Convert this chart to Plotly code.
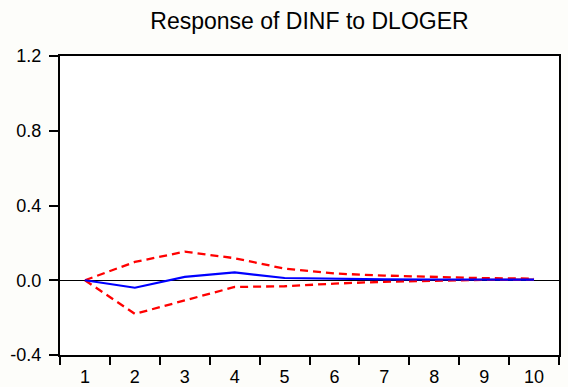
import plotly.graph_objects as go

periods = [1, 2, 3, 4, 5, 6, 7, 8, 9, 10]
response = [0.0, -0.040, 0.018, 0.042, 0.012, 0.008, 0.005, 0.004, 0.003, 0.003]
upper = [0.0, 0.098, 0.153, 0.118, 0.062, 0.036, 0.025, 0.016, 0.011, 0.009]
lower = [0.0, -0.180, -0.108, -0.036, -0.032, -0.018, -0.008, -0.001, 0.002, 0.003]
y_ticks = [-0.4, 0.0, 0.4, 0.8, 1.2]
y_ticktext = ["-0.4", "0.0", "0.4", "0.8", "1.2"]
title_text = "Response of DINF to DLOGER"

FONT = "Liberation Sans, Arial, sans-serif"

fig = go.Figure()
fig.add_trace(go.Scatter(x=periods, y=upper, mode="lines",
                         line=dict(color="#ff0000", width=2.3, dash="8px,5px"),
                         showlegend=False, hoverinfo="skip"))
fig.add_trace(go.Scatter(x=periods, y=lower, mode="lines",
                         line=dict(color="#ff0000", width=2.3, dash="8px,5px"),
                         showlegend=False, hoverinfo="skip"))
fig.add_trace(go.Scatter(x=periods, y=response, mode="lines",
                         line=dict(color="#0000ff", width=2.2),
                         showlegend=False))

fig.update_layout(
    width=568, height=387,
    margin=dict(l=60, r=9, t=56, b=32, autoexpand=False),
    paper_bgcolor="#fdfdfa",
    plot_bgcolor="#ffffff",
    font=dict(family=FONT, size=18, color="#000000"),
    title=dict(text=title_text, x=309.5 / 568, xanchor="center",
               y=1 - 21 / 387, yanchor="middle",
               font=dict(family=FONT, size=23, color="#000000")),
)

fig.update_xaxes(
    range=[0.5, 10.5], automargin=False,
    tickmode="array", tickvals=periods, ticktext=[str(p) for p in periods],
    ticks="", showgrid=False, zeroline=False,
    showline=True, linecolor="#000000", linewidth=2, mirror=True,
    ticklabelstandoff=4,
    minor=dict(tick0=0.5, dtick=1, ticks="outside", ticklen=8, tickwidth=1.5,
               tickcolor="#000000", showgrid=False),
)
fig.update_yaxes(
    range=[-0.4, 1.2], automargin=False,
    tickmode="array", tickvals=y_ticks, ticktext=y_ticktext,
    ticks="outside", ticklen=9, tickwidth=1.5, tickcolor="#000000",
    showgrid=False,
    zeroline=True, zerolinecolor="#000000", zerolinewidth=1,
    showline=True, linecolor="#000000", linewidth=2, mirror=True,
    ticklabelstandoff=4,
)

fig.write_html("out.html")
